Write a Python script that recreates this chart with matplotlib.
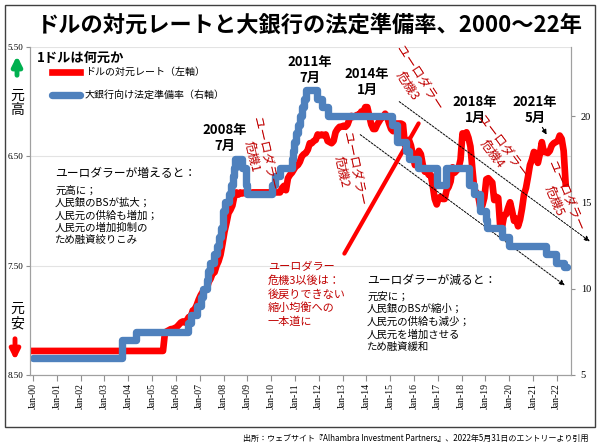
import numpy as np
import pandas as pd
import matplotlib
matplotlib.use('Agg')
import matplotlib.pyplot as plt
from matplotlib.patches import Rectangle

plt.rcParams['font.family'] = ['Noto Sans CJK JP', 'DejaVu Sans']

# --- data -------------------------------------------------------------
title = 'ドルの対元レートと大銀行の法定準備率、2000～22年'
years = list(range(2000, 2023))
xtick_labels = ['Jan-%02d' % (y - 2000) for y in years]
left_ticks = [5.50, 6.50, 7.50, 8.50]
right_ticks = [5, 10, 15, 20]

# USD/CNY, monthly from Jan 2000 (left axis, inverted)
cny_rate = [
    8.28, 8.28, 8.28, 8.28, 8.28, 8.28, 8.28, 8.28, 8.28, 8.28, 8.28, 8.28,  # 2000
    8.28, 8.28, 8.28, 8.28, 8.28, 8.28, 8.28, 8.28, 8.28, 8.28, 8.28, 8.28,  # 2001
    8.28, 8.28, 8.28, 8.28, 8.28, 8.28, 8.28, 8.28, 8.28, 8.28, 8.28, 8.28,  # 2002
    8.28, 8.28, 8.28, 8.28, 8.28, 8.28, 8.28, 8.28, 8.28, 8.28, 8.28, 8.28,  # 2003
    8.28, 8.28, 8.28, 8.28, 8.28, 8.28, 8.28, 8.28, 8.28, 8.28, 8.28, 8.28,  # 2004
    8.28, 8.28, 8.28, 8.28, 8.28, 8.28, 8.11, 8.10, 8.09, 8.08, 8.08, 8.07,  # 2005
    8.06, 8.04, 8.02, 8.01, 8.02, 8.00, 7.97, 7.97, 7.91, 7.90, 7.86, 7.81,  # 2006
    7.77, 7.74, 7.73, 7.72, 7.65, 7.62, 7.57, 7.56, 7.50, 7.46, 7.40, 7.30,  # 2007
    7.19, 7.11, 7.02, 6.99, 6.95, 6.86, 6.83, 6.85, 6.83, 6.84, 6.83, 6.84,  # 2008
    6.84, 6.84, 6.83, 6.83, 6.83, 6.83, 6.83, 6.83, 6.83, 6.83, 6.83, 6.83,  # 2009
    6.83, 6.83, 6.83, 6.83, 6.83, 6.79, 6.77, 6.81, 6.70, 6.67, 6.65, 6.62,  # 2010
    6.59, 6.58, 6.55, 6.50, 6.48, 6.47, 6.44, 6.38, 6.38, 6.36, 6.35, 6.30,  # 2011
    6.31, 6.30, 6.31, 6.30, 6.36, 6.37, 6.38, 6.36, 6.28, 6.25, 6.23, 6.23,  # 2012
    6.22, 6.23, 6.21, 6.16, 6.13, 6.14, 6.13, 6.12, 6.12, 6.09, 6.09, 6.05,  # 2013
    6.05, 6.13, 6.21, 6.25, 6.25, 6.21, 6.18, 6.15, 6.14, 6.11, 6.14, 6.20,  # 2014
    6.25, 6.27, 6.20, 6.20, 6.20, 6.20, 6.21, 6.40, 6.36, 6.35, 6.40, 6.49,  # 2015
    6.58, 6.55, 6.45, 6.48, 6.58, 6.64, 6.64, 6.67, 6.67, 6.77, 6.89, 6.94,  # 2016
    6.88, 6.87, 6.89, 6.89, 6.81, 6.78, 6.73, 6.60, 6.65, 6.63, 6.61, 6.53,  # 2017
    6.29, 6.33, 6.28, 6.33, 6.41, 6.62, 6.81, 6.83, 6.87, 6.97, 6.95, 6.88,  # 2018
    6.71, 6.70, 6.72, 6.74, 6.90, 6.87, 6.88, 7.14, 7.14, 7.04, 7.03, 6.97,  # 2019
    6.92, 7.00, 7.09, 7.07, 7.14, 7.08, 6.98, 6.85, 6.79, 6.69, 6.58, 6.53,  # 2020
    6.46, 6.47, 6.56, 6.48, 6.37, 6.46, 6.46, 6.47, 6.45, 6.40, 6.38, 6.37,  # 2021
    6.36, 6.31, 6.34, 6.45, 6.75,                                            # 2022
]

# reserve requirement ratio for large banks (%), change dates (right axis)
rrr_dates = [
    '2000-01-01', '2003-09-21', '2004-04-25', '2006-07-05', '2006-08-15',
    '2006-11-15', '2007-01-15', '2007-02-25', '2007-04-16', '2007-05-15',
    '2007-06-05', '2007-08-15', '2007-09-25', '2007-10-25', '2007-11-26',
    '2007-12-25', '2008-01-25', '2008-03-25', '2008-04-25', '2008-05-20',
    '2008-06-15', '2008-06-25', '2008-10-15', '2008-12-05', '2008-12-25',
    '2010-01-18', '2010-02-25', '2010-05-10', '2010-11-16', '2010-11-29',
    '2010-12-20', '2011-01-20', '2011-02-24', '2011-03-25', '2011-04-21',
    '2011-05-18', '2011-06-20', '2011-12-05', '2012-02-24', '2012-05-18',
    '2015-02-05', '2015-04-20', '2015-09-06', '2015-10-24', '2016-03-01',
    '2016-12-20', '2017-05-10', '2018-04-25', '2018-07-05', '2018-10-15',
    '2019-01-15', '2019-01-25', '2019-09-16', '2020-01-06', '2021-07-15',
    '2021-12-15', '2022-04-25', '2022-06-01',
]
rrr_values = [
    6.0, 7.0, 7.5, 8.0, 8.5,
    9.0, 9.5, 10.0, 10.5, 11.0,
    11.5, 12.0, 12.5, 13.0, 13.5,
    14.5, 15.0, 15.5, 16.0, 16.5,
    17.0, 17.5, 17.0, 16.0, 15.5,
    16.0, 16.5, 17.0, 17.5, 18.0,
    18.5, 19.0, 19.5, 20.0, 20.5,
    21.0, 21.5, 21.0, 20.5, 20.0,
    19.5, 18.5, 18.0, 17.5, 17.0,
    16.0, 17.0, 16.0, 15.5, 14.5,
    14.0, 13.5, 13.0, 12.5, 12.0,
    11.5, 11.25, 11.25,
]

W, H = 600, 445
RED = '#ff0000'
BLUE = '#4f81bd'
DRED = '#c00000'


def fp(x, y):
    # pixel position (from top-left) -> figure fraction
    return x / W, 1 - y / H


fig = plt.figure(figsize=(W / 100, H / 100), dpi=100)
ax = fig.add_axes([30 / W, 1 - 375 / H, 541 / W, 328 / H])
ax2 = ax.twinx()

x_cny = np.arange(len(cny_rate)) / 12 + 1 / 24
d = pd.to_datetime(rrr_dates)
x_rrr = (d.year - 2000) + (d.dayofyear - 1) / 365.25

red_line, = ax.plot(x_cny, cny_rate, color=RED, lw=4.8,
                    label='ドルの対元レート（左軸）')
blue_line, = ax2.plot(x_rrr, rrr_values, drawstyle='steps-post', color=BLUE,
                      lw=5.3, solid_joinstyle='round', solid_capstyle='round',
                      label='大銀行向け法定準備率（右軸）')

ax.set_xlim(-0.13, 22.6)
ax.set_ylim(8.5, 5.5)
ax2.set_ylim(5, 24)

ax.set_xticks(range(len(years)), xtick_labels, rotation=90)
ax.set_yticks(left_ticks, ['%.2f' % v for v in left_ticks])
ax2.set_yticks(right_ticks, [str(v) for v in right_ticks])
ax.tick_params(axis='x', labelsize=7, length=4, color='#909090', pad=2,
               labelfontfamily='Liberation Serif')
ax.tick_params(axis='y', labelsize=6.5, length=3, color='#909090', pad=2,
               labelfontfamily='Liberation Serif')
ax2.tick_params(axis='y', labelsize=7.5, length=3, color='#909090', pad=4,
                labelfontfamily='Liberation Serif')
ax.yaxis.grid(True, color='#e3e3e3', lw=0.8)
ax.set_axisbelow(True)
for a in (ax, ax2):
    a.spines['top'].set_visible(False)
    for s in ('left', 'right', 'bottom'):
        a.spines[s].set_color('#a0a0a0')

# legend
fig.text(*fp(37, 58), '1ドルは何元か', fontsize=9.5, weight='bold',
         ha='left', va='center')
ax2.legend(handles=[red_line, blue_line], loc='upper left',
           bbox_to_anchor=fp(52, 67), bbox_transform=fig.transFigure,
           frameon=False, fontsize=7.2, handlelength=2.8, handletextpad=0.5,
           borderpad=0, borderaxespad=0, labelspacing=1.3)

# left-side markers
ax.annotate('', xy=fp(17, 53), xytext=fp(17, 78), xycoords='figure fraction',
            textcoords='figure fraction', annotation_clip=False,
            arrowprops=dict(arrowstyle='-|>', lw=3.5, color='#00b050',
                            mutation_scale=14))
fig.text(*fp(17, 103), '元\n高', fontsize=10, ha='center', va='center',
         linespacing=1.05)
fig.text(*fp(17, 316), '元\n安', fontsize=10, ha='center', va='center',
         linespacing=1.05)
ax.annotate('', xy=fp(15, 363), xytext=fp(15, 336), xycoords='figure fraction',
            textcoords='figure fraction', annotation_clip=False,
            arrowprops=dict(arrowstyle='-|>', lw=3.5, color=RED,
                            mutation_scale=14))

# year labels
for txt, (px, py) in [('2008年\n7月', (225, 138)), ('2011年\n7月', (310, 70)),
                      ('2014年\n1月', (367, 82)), ('2018年\n1月', (475, 110)),
                      ('2021年\n5月', (535, 110))]:
    fig.text(*fp(px, py), txt, fontsize=9.5, weight='bold', ha='center',
             va='center', ma='center', linespacing=1.1)
ax.annotate('', xy=fp(548, 137), xytext=fp(541, 125), xycoords='figure fraction',
            textcoords='figure fraction', annotation_clip=False,
            arrowprops=dict(arrowstyle='-|>', lw=0.8, color='black',
                            mutation_scale=7))

# eurodollar crisis labels
for txt, (px, py), rot in [('ユーロダラー\n危機1', (258, 155), -77),
                           ('ユーロダラー\n危機2', (348, 170), -78),
                           ('ユーロダラー\n危機3', (413, 82), -57),
                           ('ユーロダラー\n危機4', (497, 150), -53),
                           ('ユーロダラー\n危機5', (560, 198), -67)]:
    fig.text(*fp(px, py), txt, fontsize=9, color=DRED, ha='center',
             va='center', ma='center', rotation=rot, rotation_mode='anchor',
             linespacing=1.05)

# dashed trend arrows
for (xa, ya), (xb, yb) in [((397, 100), (592, 243)), ((358, 133), (567, 287))]:
    ax.annotate('', xy=fp(xb, yb), xytext=fp(xa, ya), xycoords='figure fraction',
                textcoords='figure fraction', annotation_clip=False,
                arrowprops=dict(arrowstyle='-|>', lw=0.7, color='black',
                                linestyle=(0, (2, 1.5)), mutation_scale=8))

# red pointer line
ax.annotate('', xy=fp(420, 121), xytext=fp(343, 256), xycoords='figure fraction',
            textcoords='figure fraction', annotation_clip=False,
            arrowprops=dict(arrowstyle='-', lw=3, color=RED))

# explanatory notes
fig.text(*fp(55, 173), 'ユーロダラーが増えると：', fontsize=8.5, ha='left',
         va='center')
fig.text(*fp(55, 185), '元高に；\n人民銀のBSが拡大；\n人民元の供給も増加；\n'
         '人民元の増加抑制の\nため融資絞りこみ', fontsize=7.5, ha='left',
         va='top', linespacing=1.25)
fig.text(*fp(367, 280), 'ユーロダラーが減ると：', fontsize=8.5, ha='left',
         va='center')
fig.text(*fp(367, 291), '元安に；\n人民銀のBSが縮小；\n人民元の供給も減少；\n'
         '人民元を増加させる\nため融資緩和', fontsize=7.5, ha='left',
         va='top', linespacing=1.3)
fig.text(*fp(268, 262), 'ユーロダラー\n危機3以後は：\n後戻りできない\n'
         '縮小均衡への\n一本道に', fontsize=8, color=DRED, ha='left', va='top',
         linespacing=1.35)

# title, frame, source
fig.text(*fp(310, 25), title, fontsize=16, weight='bold', ha='center',
         va='center')
fig.add_artist(Rectangle((5 / W, 18 / H), 590 / W, 422 / H,
                         transform=fig.transFigure, fill=False,
                         ec='#404040', lw=1))
fig.text(*fp(588, 438), '出所：ウェブサイト『Alhambra Investment Partners』、'
         '2022年5月31日のエントリーより引用', fontsize=5.8, ha='right',
         va='center')

fig.savefig('out.png', dpi=100)
